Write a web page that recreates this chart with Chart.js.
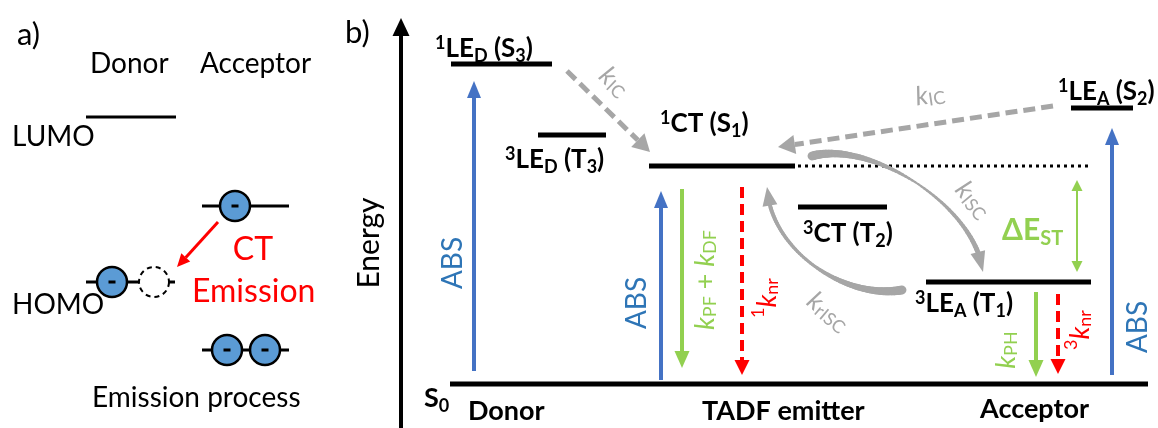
<!DOCTYPE html>
<html>
<head>
<meta charset="utf-8">
<script src="https://cdn.jsdelivr.net/npm/chart.js@4"></script>
<style>
  html, body { margin: 0; background: #fff; }
  canvas { display: block; }
</style>
</head>
<body>
<canvas id="diagram" width="1158" height="428"></canvas>
<script>
// panel b: energy levels (energy in arbitrary units, S0 = 0), drawn from x start to x end
const levelNames  = ['S0', '1LE_D (S3)', '3LE_D (T3)', '1CT (S1)', '3CT (T2)', '1LE_A (S2)', '3LE_A (T1)']
const levelEnergy = [0, 320, 249, 218, 177, 276, 102]
const levelStart  = [450, 451, 538, 649, 798, 1071, 926]
const levelEnd    = [1148, 552, 606, 795, 887, 1133, 1091]

// vertical transitions: x, start energy, end energy
const transNames = ['ABS', 'ABS', 'kPF + kDF', '1knr', 'kPH', '3knr', 'ABS', 'dEST']
const transX     = [474, 661, 682, 742, 1036, 1058, 1112, 1077]
const transFrom  = [13, 4, 195, 197, 92, 90, 9, 204]
const transTo    = [303, 193, 16, 9, 7, 10, 256, 112]

// internal conversion (dashed): start [x, E], end [x, E]
const icFrom = [[567, 313], [1053, 278]]
const icTo   = [[650, 232], [778, 237]]

// ISC / rISC curved arrows: bezier control points [x, E]
const iscCurve  = [[812, 228], [870, 244], [975, 179], [983, 112]]
const riscCurve = [[902, 94], [845, 84], [770, 134], [767, 197]]

// panel a: orbitals
const orbitalStart  = [86, 202, 86, 202]
const orbitalEnd    = [176, 289, 175, 289]
const orbitalEnergy = [267, 178, 102, 34]
const electronX = [235, 112, 227, 265]
const electronE = [178, 102, 34, 34]
const holeX = [154]
const holeE = [102]

const blue = '#4472c4', absBlue = '#2e75b6', green = '#92d050', red = '#ff0000', gray = '#a6a6a6'
const FONT = 'Lato, "Open Sans", sans-serif'

function parseRich(s) {
  const parts = []
  let i = 0, italic = false
  while (i < s.length) {
    const c = s[i]
    if (c === '*') { italic = !italic; i++; continue }
    if (c === '^' || c === '_') {
      const mode = c === '^' ? 'sup' : 'sub'
      i++
      let t
      if (s[i] === '{') { const j = s.indexOf('}', i); t = s.slice(i + 1, j); i = j + 1 }
      else { t = s[i]; i++ }
      parts.push({ t, mode, italic })
      continue
    }
    let j = i
    while (j < s.length && !'*^_'.includes(s[j])) j++
    parts.push({ t: s.slice(i, j), mode: 'n', italic })
    i = j
  }
  return parts
}

function drawRich(ctx, str, x, y, o) {
  const parts = parseRich(str)
  const base = o.size
  const font = p => (p.italic ? 'italic ' : '') + (o.bold ? 'bold ' : '') +
    (p.mode === 'n' ? base : Math.round(base * 0.68)) + 'px ' + FONT
  ctx.save()
  ctx.translate(x, y)
  if (o.rot) ctx.rotate(o.rot * Math.PI / 180)
  ctx.fillStyle = o.color || '#000'
  ctx.textBaseline = o.middle ? 'middle' : 'alphabetic'
  ctx.textAlign = 'left'
  let w = 0
  parts.forEach(p => { ctx.font = font(p); p.w = ctx.measureText(p.t).width; w += p.w })
  let cx = o.align === 'center' ? -w / 2 : 0
  parts.forEach(p => {
    ctx.font = font(p)
    const dy = p.mode === 'sup' ? -base * 0.32 : p.mode === 'sub' ? base * 0.18 : 0
    ctx.fillText(p.t, cx, dy)
    cx += p.w
  })
  ctx.restore()
}

function arrow(ctx, x1, y1, x2, y2, o) {
  const ang = Math.atan2(y2 - y1, x2 - x1)
  const hl = o.headLen || 16, hw = o.headWidth || 14
  const bx = x2 - Math.cos(ang) * hl, by = y2 - Math.sin(ang) * hl
  ctx.save()
  ctx.strokeStyle = o.color
  ctx.fillStyle = o.color
  ctx.lineWidth = o.width
  ctx.setLineDash(o.dash || [])
  ctx.beginPath()
  ctx.moveTo(x1, y1)
  ctx.lineTo(bx, by)
  ctx.stroke()
  ctx.setLineDash([])
  ctx.beginPath()
  ctx.moveTo(x2, y2)
  ctx.lineTo(bx + Math.sin(ang) * hw / 2, by - Math.cos(ang) * hw / 2)
  ctx.lineTo(bx - Math.sin(ang) * hw / 2, by + Math.cos(ang) * hw / 2)
  ctx.closePath()
  ctx.fill()
  ctx.restore()
}

// tapered bezier arrow, widths given at start / middle / end
function curvedArrow(ctx, pts, wStart, wMid, wEnd, color) {
  const bez = (t, a, b, c, d) => {
    const u = 1 - t
    return u * u * u * a + 3 * u * u * t * b + 3 * u * t * t * c + t * t * t * d
  }
  const P = t => [bez(t, pts[0][0], pts[1][0], pts[2][0], pts[3][0]), bez(t, pts[0][1], pts[1][1], pts[2][1], pts[3][1])]
  ctx.save()
  ctx.strokeStyle = color
  ctx.fillStyle = color
  ctx.lineCap = 'round'
  const n = 60, tEnd = 0.9
  for (let i = 0; i < n; i++) {
    const t0 = i / n * tEnd, t1 = (i + 1) / n * tEnd
    const m = (t0 + t1) / 2
    const w = m < 0.5 ? wStart + (wMid - wStart) * (m / 0.5) : wMid + (wEnd - wMid) * ((m - 0.5) / 0.4)
    const a = P(t0), b = P(t1)
    ctx.lineWidth = w
    ctx.beginPath()
    ctx.moveTo(a[0], a[1])
    ctx.lineTo(b[0], b[1])
    ctx.stroke()
  }
  const tip = P(1), base = P(tEnd)
  const ang = Math.atan2(tip[1] - base[1], tip[0] - base[0])
  const hw = 15
  ctx.beginPath()
  ctx.moveTo(tip[0], tip[1])
  ctx.lineTo(base[0] + Math.sin(ang) * hw / 2, base[1] - Math.cos(ang) * hw / 2)
  ctx.lineTo(base[0] - Math.sin(ang) * hw / 2, base[1] + Math.cos(ang) * hw / 2)
  ctx.closePath()
  ctx.fill()
  ctx.restore()
}

const diagramPlugin = {
  id: 'diagram',
  afterDatasetsDraw(chart) {
    const ctx = chart.ctx
    const sx = chart.scales.x, sy = chart.scales.y
    const X = v => sx.getPixelForValue(v), Y = v => sy.getPixelForValue(v)

    // energy axis
    arrow(ctx, X(401), Y(-44), X(401), Y(366), { color: '#000', width: 4, headLen: 18, headWidth: 17 })

    // vertical transitions
    transNames.forEach((name, i) => {
      const x = X(transX[i]), y1 = Y(transFrom[i]), y2 = Y(transTo[i])
      if (name === 'ABS') arrow(ctx, x, y1, x, y2, { color: blue, width: 4, headLen: 17, headWidth: 14 })
      else if (name.startsWith('k')) arrow(ctx, x, y1, x, y2, { color: green, width: 4, headLen: 17, headWidth: 15 })
      else if (name === 'dEST') {
        const my = (y1 + y2) / 2
        arrow(ctx, x, my, x, y1, { color: green, width: 2, headLen: 11, headWidth: 11 })
        arrow(ctx, x, my, x, y2, { color: green, width: 2, headLen: 11, headWidth: 11 })
      } else arrow(ctx, x, y1, x, y2, { color: red, width: 4, dash: [11, 6], headLen: 15, headWidth: 15 })
    })

    // internal conversion
    icFrom.forEach((p, i) => {
      arrow(ctx, X(p[0]), Y(p[1]), X(icTo[i][0]), Y(icTo[i][1]),
        { color: gray, width: 5, dash: [12, 6], headLen: 17, headWidth: 19 })
    })

    // ISC and reverse ISC
    curvedArrow(ctx, iscCurve.map(p => [X(p[0]), Y(p[1])]), 9, 2, 5, gray)
    curvedArrow(ctx, riscCurve.map(p => [X(p[0]), Y(p[1])]), 9, 3, 4, gray)

    // panel a: hole (dashed circle) and minus signs
    holeX.forEach((x, i) => {
      ctx.save()
      ctx.beginPath()
      ctx.arc(X(x), Y(holeE[i]), 15, 0, Math.PI * 2)
      ctx.fillStyle = '#fff'
      ctx.fill()
      ctx.setLineDash([5, 4])
      ctx.lineWidth = 2
      ctx.strokeStyle = '#000'
      ctx.stroke()
      ctx.restore()
    })
    ctx.fillStyle = '#000'
    electronX.forEach((x, i) => ctx.fillRect(X(x) - 3.5, Y(electronE[i]) - 1.5, 7, 3))

    // CT emission arrow
    arrow(ctx, X(218), Y(162), X(177), Y(117), { color: red, width: 3, headLen: 13, headWidth: 12 })
  },
  afterDraw(chart) {
    const ctx = chart.ctx
    const sx = chart.scales.x, sy = chart.scales.y
    const T = (s, x, e, o) => drawRich(ctx, s, sx.getPixelForValue(x), sy.getPixelForValue(e), o)
    const reg = { size: 28 }, lvl = { size: 26, bold: true }, bottom = { size: 27, bold: true }

    // panel a
    T('a)', 17, 339, { size: 31 })
    T('Donor', 90, 311, reg)
    T('Acceptor', 200, 311, reg)
    T('LUMO', 12, 238, reg)
    T('HOMO', 12, 70, reg)
    T('CT', 253, 124, { size: 32, color: red, align: 'center' })
    T('Emission', 192, 82, { size: 32, color: red })
    T('Emission process', 92, -23, reg)

    // panel b
    T('b)', 345, 341, { size: 31 })
    T('Energy', 369, 141, { size: 30, rot: -90, align: 'center', middle: true })
    T('^{1}LE_{D} (S_{3})', 435, 327, lvl)
    T('^{3}LE_{D} (T_{3})', 505, 216, lvl)
    T('^{1}CT (S_{1})', 660, 252, lvl)
    T('^{1}LE_{A} (S_{2})', 1058, 284, lvl)
    T('^{3}CT (T_{2})', 803, 142, lvl)
    T('^{3}LE_{A} (T_{1})', 915, 72, lvl)
    T('S_{0}', 424, -23, bottom)
    T('Donor', 468, -36, bottom)
    T('TADF emitter', 702, -36, bottom)
    T('Acceptor', 980, -34, bottom)

    const rv = { size: 28, rot: -90, align: 'center', middle: true }
    T('ABS', 453, 121, { ...rv, color: absBlue })
    T('ABS', 637, 81, { ...rv, color: absBlue })
    T('ABS', 1138, 57, { ...rv, color: absBlue })
    T('*k*_{PF} + *k*_{DF}', 705, 104, { ...rv, size: 27, color: green })
    T('^{1}*k*_{nr}', 767, 86, { ...rv, size: 27, color: red })
    T('*k*_{PH}', 1006, 34, { ...rv, size: 27, color: green })
    T('^{3}*k*_{nr}', 1080, 54, { ...rv, size: 27, color: red })
    T('ΔE_{ST}', 1002, 144, { size: 30, bold: true, color: green })
    T('*k*_{IC}', 614, 302, { size: 26, rot: 44, align: 'center', middle: true, color: gray })
    T('*k*_{IC}', 930, 289, { size: 26, rot: -8.5, align: 'center', middle: true, color: gray })
    T('*k*_{ISC}', 973, 184, { size: 26, rot: 50, align: 'center', middle: true, color: gray })
    T('*k*_{rISC}', 828, 72, { size: 26, rot: 40, align: 'center', middle: true, color: gray })
  }
}

const datasets = [
  {
    type: 'scatter', label: 'electrons', order: 0,
    data: electronX.map((x, i) => ({ x, y: electronE[i] })),
    pointRadius: 15, pointBackgroundColor: '#5b9bd5', pointBorderColor: '#000', pointBorderWidth: 2.5
  },
  ...levelNames.map((name, i) => ({
    type: 'line', label: name, order: 1,
    data: [{ x: levelStart[i], y: levelEnergy[i] }, { x: levelEnd[i], y: levelEnergy[i] }],
    borderColor: '#000', borderWidth: 5, pointRadius: 0
  })),
  {
    type: 'line', label: 'S1 reference', order: 1,
    data: [{ x: levelEnd[3] + 3, y: levelEnergy[3] }, { x: levelEnd[6], y: levelEnergy[3] }],
    borderColor: '#000', borderWidth: 3, borderDash: [3, 4], pointRadius: 0
  },
  ...orbitalStart.map((x, i) => ({
    type: 'line', label: 'orbital ' + i, order: 1,
    data: [{ x, y: orbitalEnergy[i] }, { x: orbitalEnd[i], y: orbitalEnergy[i] }],
    borderColor: '#000', borderWidth: 3, pointRadius: 0
  }))
]

new Chart(document.getElementById('diagram').getContext('2d'), {
  type: 'scatter',
  data: { datasets },
  options: {
    responsive: false,
    animation: false,
    layout: { padding: 0, autoPadding: false },
    plugins: { legend: { display: false }, tooltip: { enabled: false } },
    scales: {
      x: { type: 'linear', min: 0, max: 1158, display: false },
      y: { type: 'linear', min: -44, max: 384, display: false }
    }
  },
  plugins: [diagramPlugin]
})
</script>
</body>
</html>
